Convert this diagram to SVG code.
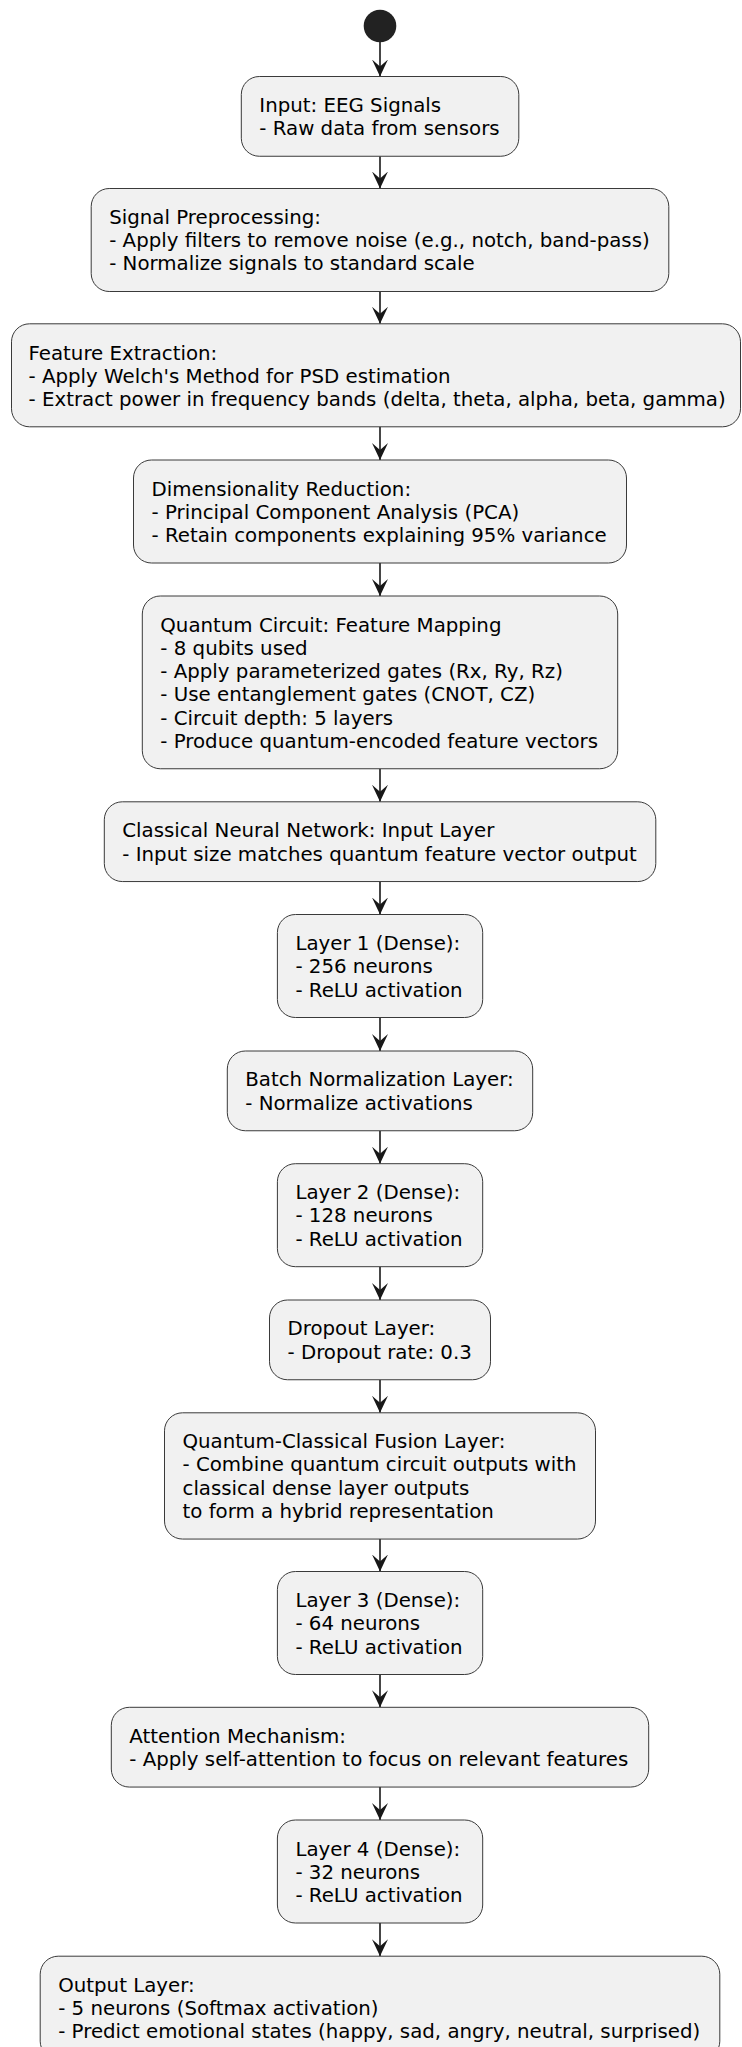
<svg xmlns="http://www.w3.org/2000/svg" width="742" height="2047" viewBox="0 0 742 2047">
<defs>
<style>
.box{fill:#F1F1F1;stroke:#3a3a3a;stroke-width:1}
.t{font-family:"DejaVu Sans","Liberation Sans",sans-serif;font-size:19.8px;fill:#000}
.edge{stroke:#181818;stroke-width:1.6;fill:none}
</style>
<marker id="ah" viewBox="0 0 17 16" refX="17" refY="8" markerWidth="17" markerHeight="16" markerUnits="userSpaceOnUse" orient="auto">
<path d="M0,0 L17,8 L0,16 L7,8 Z" fill="#181818"/>
</marker>
</defs>
<rect width="742" height="2047" fill="#FFFFFF"/>
<g id="connectors">
<line class="edge" x1="380" y1="42" x2="380" y2="76.5" marker-end="url(#ah)"/>
<line class="edge" x1="380" y1="156.25" x2="380" y2="188.5" marker-end="url(#ah)"/>
<line class="edge" x1="380" y1="291.5" x2="380" y2="323.8" marker-end="url(#ah)"/>
<line class="edge" x1="380" y1="426.8" x2="380" y2="460" marker-end="url(#ah)"/>
<line class="edge" x1="380" y1="563" x2="380" y2="596" marker-end="url(#ah)"/>
<line class="edge" x1="380" y1="768.75" x2="380" y2="801.8" marker-end="url(#ah)"/>
<line class="edge" x1="380" y1="881.55" x2="380" y2="914.5" marker-end="url(#ah)"/>
<line class="edge" x1="380" y1="1017.5" x2="380" y2="1051" marker-end="url(#ah)"/>
<line class="edge" x1="380" y1="1130.75" x2="380" y2="1163.7" marker-end="url(#ah)"/>
<line class="edge" x1="380" y1="1266.7" x2="380" y2="1300" marker-end="url(#ah)"/>
<line class="edge" x1="380" y1="1379.75" x2="380" y2="1412.8" marker-end="url(#ah)"/>
<line class="edge" x1="380" y1="1539.05" x2="380" y2="1571.5" marker-end="url(#ah)"/>
<line class="edge" x1="380" y1="1674.5" x2="380" y2="1707.3" marker-end="url(#ah)"/>
<line class="edge" x1="380" y1="1787.05" x2="380" y2="1820" marker-end="url(#ah)"/>
<line class="edge" x1="380" y1="1923" x2="380" y2="1956.2" marker-end="url(#ah)"/>
</g>
<g id="start">
<circle cx="380" cy="26" r="16.3" fill="#222222"/>
</g>
<g id="input">
<rect class="box" x="241.3" y="76.5" width="277.5" height="79.75" rx="18"/>
<text class="t" x="259.3" y="111.7">Input: EEG Signals</text>
<text class="t" x="259.3" y="134.95">- Raw data from sensors</text>
</g>
<g id="preprocessing">
<rect class="box" x="91.2" y="188.5" width="577.6" height="103" rx="18"/>
<text class="t" x="109.2" y="223.7">Signal Preprocessing:</text>
<text class="t" x="109.2" y="246.95">- Apply filters to remove noise (e.g., notch, band-pass)</text>
<text class="t" x="109.2" y="270.2">- Normalize signals to standard scale</text>
</g>
<g id="feature-extraction">
<rect class="box" x="11.5" y="323.8" width="729" height="103" rx="18"/>
<text class="t" x="28.5" y="359.5">Feature Extraction:</text>
<text class="t" x="28.5" y="382.75">- Apply Welch's Method for PSD estimation</text>
<text class="t" x="28.5" y="406">- Extract power in frequency bands (delta, theta, alpha, beta, gamma)</text>
</g>
<g id="dimensionality-reduction">
<rect class="box" x="133.5" y="460" width="493" height="103" rx="18"/>
<text class="t" x="151.5" y="495.5">Dimensionality Reduction:</text>
<text class="t" x="151.5" y="518.75">- Principal Component Analysis (PCA)</text>
<text class="t" x="151.5" y="542">- Retain components explaining 95% variance</text>
</g>
<g id="quantum-circuit">
<rect class="box" x="142.3" y="596" width="475.4" height="172.75" rx="18"/>
<text class="t" x="160.3" y="631.5">Quantum Circuit: Feature Mapping</text>
<text class="t" x="160.3" y="654.75">- 8 qubits used</text>
<text class="t" x="160.3" y="678">- Apply parameterized gates (Rx, Ry, Rz)</text>
<text class="t" x="160.3" y="701.25">- Use entanglement gates (CNOT, CZ)</text>
<text class="t" x="160.3" y="724.5">- Circuit depth: 5 layers</text>
<text class="t" x="160.3" y="747.75">- Produce quantum-encoded feature vectors</text>
</g>
<g id="classical-input">
<rect class="box" x="104.3" y="801.8" width="551.5" height="79.75" rx="18"/>
<text class="t" x="122.3" y="837.3">Classical Neural Network: Input Layer</text>
<text class="t" x="122.3" y="860.55">- Input size matches quantum feature vector output</text>
</g>
<g id="layer1">
<rect class="box" x="277.4" y="914.5" width="205.3" height="103" rx="18"/>
<text class="t" x="295.4" y="950">Layer 1 (Dense):</text>
<text class="t" x="295.4" y="973.25">- 256 neurons</text>
<text class="t" x="295.4" y="996.5">- ReLU activation</text>
</g>
<g id="batch-norm">
<rect class="box" x="227.3" y="1051" width="305.4" height="79.75" rx="18"/>
<text class="t" x="245.3" y="1086.3">Batch Normalization Layer:</text>
<text class="t" x="245.3" y="1109.55">- Normalize activations</text>
</g>
<g id="layer2">
<rect class="box" x="277.4" y="1163.7" width="205.3" height="103" rx="18"/>
<text class="t" x="295.4" y="1199">Layer 2 (Dense):</text>
<text class="t" x="295.4" y="1222.25">- 128 neurons</text>
<text class="t" x="295.4" y="1245.5">- ReLU activation</text>
</g>
<g id="dropout">
<rect class="box" x="269.5" y="1300" width="221" height="79.75" rx="18"/>
<text class="t" x="287.5" y="1335.3">Dropout Layer:</text>
<text class="t" x="287.5" y="1358.55">- Dropout rate: 0.3</text>
</g>
<g id="fusion">
<rect class="box" x="164.5" y="1412.8" width="431" height="126.25" rx="18"/>
<text class="t" x="182.5" y="1448">Quantum-Classical Fusion Layer:</text>
<text class="t" x="182.5" y="1471.25">- Combine quantum circuit outputs with</text>
<text class="t" x="182.5" y="1494.5">classical dense layer outputs</text>
<text class="t" x="182.5" y="1517.75">to form a hybrid representation</text>
</g>
<g id="layer3">
<rect class="box" x="277.4" y="1571.5" width="205.3" height="103" rx="18"/>
<text class="t" x="295.4" y="1607">Layer 3 (Dense):</text>
<text class="t" x="295.4" y="1630.25">- 64 neurons</text>
<text class="t" x="295.4" y="1653.5">- ReLU activation</text>
</g>
<g id="attention">
<rect class="box" x="111.3" y="1707.3" width="537.4" height="79.75" rx="18"/>
<text class="t" x="129.3" y="1742.7">Attention Mechanism:</text>
<text class="t" x="129.3" y="1765.95">- Apply self-attention to focus on relevant features</text>
</g>
<g id="layer4">
<rect class="box" x="277.4" y="1820" width="205.3" height="103" rx="18"/>
<text class="t" x="295.4" y="1855.5">Layer 4 (Dense):</text>
<text class="t" x="295.4" y="1878.75">- 32 neurons</text>
<text class="t" x="295.4" y="1902">- ReLU activation</text>
</g>
<g id="output">
<rect class="box" x="40.2" y="1956.2" width="679.6" height="103" rx="18"/>
<text class="t" x="58.2" y="1991.7">Output Layer:</text>
<text class="t" x="58.2" y="2014.95">- 5 neurons (Softmax activation)</text>
<text class="t" x="58.2" y="2038.2">- Predict emotional states (happy, sad, angry, neutral, surprised)</text>
</g>
</svg>
